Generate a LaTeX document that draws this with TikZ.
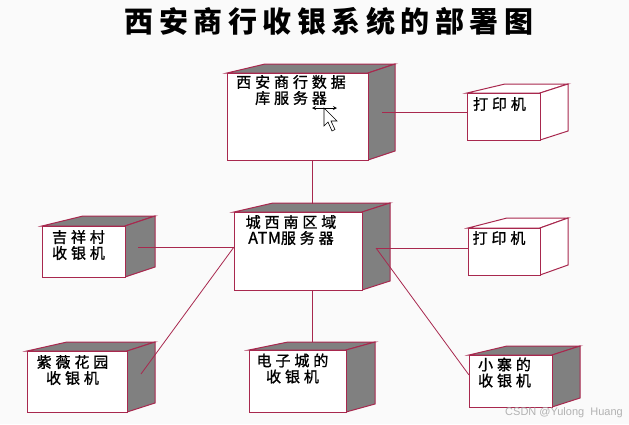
\documentclass[tikz,border=0pt]{standalone}
\usepackage{fontspec}
\newfontfamily\cjk[FakeBold=1.2,LetterSpace=4]{Noto Sans CJK SC}
\newfontfamily\boxfontfam[LetterSpace=26,FakeBold=1.2]{Noto Sans CJK SC}
\newfontfamily\titlefam[LetterSpace=19]{Noto Sans CJK SC}
\newfontfamily\wmfont{Liberation Sans}
\definecolor{edge}{RGB}{168,40,78}
\definecolor{sidegray}{RGB}{128,128,128}
\definecolor{bg}{RGB}{250,250,250}
\newcommand\boxfont{\boxfontfam\fontsize{15}{16}\selectfont}
% name, x1, y1, x2, y2, dx-left, dx-right, dy, fill
\newcommand\cubebox[9]{%
  \filldraw[face,fill=#9] (#2,#3) -- (#2+#6,#3-#8) -- (#4+#7,#3-#8) -- (#4,#3) -- cycle;
  \filldraw[face,fill=#9] (#4,#3) -- (#4+#7,#3-#8) -- (#4+#7,#5-#8) -- (#4,#5) -- cycle;
  \node[front,minimum width={(#4-#2)*1pt},minimum height={(#5-#3)*1pt}] (#1) at (#2,#3) {};
}
\begin{document}
\begin{tikzpicture}[x=1pt,y=-1pt,line join=miter]
\tikzset{
  front/.style={draw=edge,fill=white,line width=1pt,inner sep=0,outer sep=0,anchor=north west},
  face/.style={draw=edge,line width=1pt},
  conn/.style={draw=edge,line width=0.8pt},
  boxtext/.style={font=\boxfont,align=center,inner sep=0},
}
\useasboundingbox (0,0) rectangle (629,424);
\fill[bg] (0,0) rectangle (629,424);

% title
\node[font=\titlefam\bfseries\fontsize{29}{31}\selectfont,inner sep=0] (title) at (329,21) {西安商行收银系统的部署图};

% boxes
\cubebox{db}{227}{73}{368}{160}{38}{27}{9}{sidegray}
\cubebox{pa}{467}{93}{540}{140}{38}{28}{9}{white}
\cubebox{atm}{234}{212}{362}{290}{39}{28}{9}{sidegray}
\cubebox{pb}{468}{228}{540}{275}{39}{28}{10}{white}
\cubebox{jx}{42}{226}{125}{277}{41}{30}{10}{sidegray}
\cubebox{zw}{27}{351}{127}{412}{40}{28}{9}{sidegray}
\cubebox{dz}{249}{350}{346}{412}{39}{29}{8}{sidegray}
\cubebox{xz}{469}{355}{552}{407}{38}{28}{9}{sidegray}

% texts
\node[boxtext] (dbt) at (291,90) {西安商行数据\\库服务器};
\node[boxtext] (pat) at (499.5,104) {打印机};
\node[boxtext] (atmt) at (291,230) {城西南区域\\{\cjk\fontsize{16}{16}\selectfont ATM}服务器};
\node[boxtext] (pbt) at (499,238) {打印机};
\node[boxtext] (jxt) at (78.5,245) {吉祥村\\收银机};
\node[boxtext] (zwt) at (72.5,370) {紫薇花园\\收银机};
\node[boxtext] (dzt) at (292.5,368.5) {电子城的\\收银机};
\node[boxtext] (xzt) at (504.5,372.5) {小寨的\\收银机};

% connector end points
\coordinate (dbS) at (382,112);
\coordinate (atmT) at (312,204);
\coordinate (atmL) at (234,247);
\coordinate (jxS) at (138,247);
\coordinate (zwS) at (141,374);
\coordinate (dzT) at (312,342);
\coordinate (atmS) at (376,248);
\coordinate (xzL) at (469,375);

% connectors
\draw[conn] (dbS) -- (dbS -| pa.west);
\draw[conn] (db.south -| atmT) -- (atmT);
\draw[conn] (atmL) -- (jxS);
\draw[conn] (atmL) -- (zwS);
\draw[conn] (atm.south -| dzT) -- (dzT);
\draw[conn] (atmS) -- (atmS -| pb.west);
\draw[conn] (atmS) -- (xzL);

% mouse cursor
\draw[black,line width=0.6pt,fill=white] (324,108) -- (324,126) -- (328,122) -- (332,131) -- (335,129.5) -- (331,121) -- (337,121) -- cycle;
\draw[black,line width=0.8pt,<->,>=stealth] (312,108) -- (337,108);

% watermark
\node[font=\wmfont\fontsize{11}{12}\selectfont,text=black!30,anchor=east,inner sep=0] (wm) at (623,413) {CSDN @Yulong\ \ Huang};
\end{tikzpicture}
\end{document}
